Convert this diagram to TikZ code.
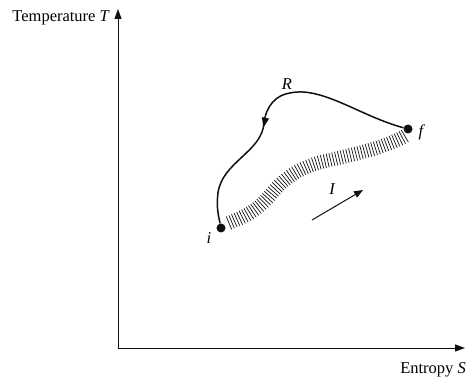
\documentclass[tikz,border=0pt]{standalone}
\usepackage{fontspec}
\setmainfont{Liberation Serif}
\usepackage{tikz}
\usetikzlibrary{arrows.meta,decorations.markings,decorations.pathreplacing}
\definecolor{ink}{HTML}{101010}

\begin{document}
\begin{tikzpicture}[
  x=1pt, y=1pt,
  font=\fontsize{16.5}{19}\selectfont,
  axis/.style={-{Triangle[length=10pt,width=7pt]}, line width=1pt, ink},
  state/.style={circle, fill=ink, inner sep=0pt, minimum size=9pt},
  lbl/.style={font=\fontsize{16.5}{19}\selectfont\itshape},
  path R/.style={line width=1.5pt, ink, decoration={markings,
    mark=at position 0.6 with {\arrow{Triangle[length=10pt,width=7pt]}}}, postaction={decorate}},
  hatch/.style={line width=0.7pt, ink, decoration={ticks, segment length=2.9pt, amplitude=7pt}, decorate}
]
  \useasboundingbox (0,0) rectangle (466,378);
  % axes
  \coordinate (O) at (118,30);
  \coordinate (Ttip) at (118,369);
  \coordinate (Stip) at (465,30);
  \draw[axis] (O) -- (Ttip);
  \draw[axis] (O) -- (Stip);
  \node[anchor=base east, inner sep=0pt] (T) at (110,356) {Temperature \textit{T}};
  \node[anchor=base east, inner sep=0pt] (S) at (466,5) {Entropy \textit{S}};
  % states
  \node[state] (i) at (221,150) {};
  \node[state] (f) at (408,249) {};
  \node[lbl] (il) at (209,140) {i};
  \node[lbl] (fl) at (421,246) {f};
  % irreversible path
  \draw[hatch] (229,155) .. controls (248,163) and (258,168) .. (272,185)
    .. controls (285,200) and (300,212) .. (330,218)
    .. controls (355,224) and (372,228) .. (385,233)
    .. controls (393,236) and (400,239) .. (405,242);
  % reversible path
  \draw[path R] (f) .. controls (360,262) and (322,292) .. (290,285)
    .. controls (276,283) and (266,272) .. (264,255)
    .. controls (262,226) and (222,216) .. (218,185)
    .. controls (216,170) and (219,160) .. (i);
  \node[lbl] (Rl) at (287,294) {R};
  \node[lbl] (Il) at (332,189) {I};
  \coordinate (Ia) at (312,158);
  \coordinate (Ib) at (363,188);
  \draw[-{Triangle[length=9pt,width=7pt]}, line width=1pt, ink] (Ia) -- (Ib);
\end{tikzpicture}
\end{document}
